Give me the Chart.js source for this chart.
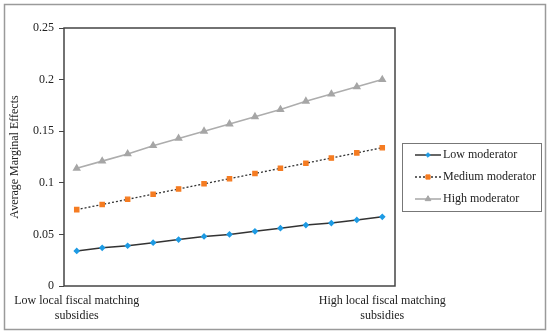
<!DOCTYPE html>
<html>
<head>
<meta charset="utf-8">
<script src="https://cdn.jsdelivr.net/npm/chart.js@4"></script>
<style>
  html, body { margin: 0; padding: 0; background: #fff; }
  #wrap { width: 550px; height: 336px; position: relative; }
</style>
</head>
<body>
<div id="wrap"><canvas id="c" width="550" height="336"></canvas></div>
<script>
// Values
var categories = [
  ["Low local fiscal matching", "subsidies"], "", "", "", "", "", "", "", "", "", "", "",
  ["High local fiscal matching", "subsidies"]
];
var lowModerator = [0.034, 0.037, 0.039, 0.042, 0.045, 0.048, 0.050, 0.053, 0.056, 0.059, 0.061, 0.064, 0.067];
var mediumModerator = [0.074, 0.079, 0.084, 0.089, 0.094, 0.099, 0.104, 0.109, 0.114, 0.119, 0.124, 0.129, 0.134];
var highModerator = [0.114, 0.121, 0.128, 0.136, 0.143, 0.150, 0.157, 0.164, 0.171, 0.179, 0.186, 0.193, 0.200];
var seriesNames = ["Low moderator", "Medium moderator", "High moderator"];

var serif = "'Liberation Serif', 'Times New Roman', serif";
var axisColor = "#444";

// Outer frame, box round the plot, and the boxed legend on the right
var framePlugin = {
  id: "frame",
  beforeDraw: function (chart) {
    var ctx = chart.ctx;
    ctx.save();
    ctx.fillStyle = "#fff";
    ctx.fillRect(0, 0, chart.width, chart.height);
    ctx.strokeStyle = "#9a9a9a";
    ctx.lineWidth = 1.5;
    ctx.strokeRect(4.5, 4.5, 541, 325);
    ctx.restore();
  },
  afterDraw: function (chart) {
    var ctx = chart.ctx;
    var a = chart.chartArea;
    ctx.save();
    ctx.strokeStyle = axisColor;
    ctx.lineWidth = 1.5;
    ctx.strokeRect(a.left, a.top, a.right - a.left, a.bottom - a.top);

    // legend
    ctx.strokeStyle = "#777";
    ctx.lineWidth = 1;
    ctx.strokeRect(402.5, 143.5, 139, 68);
    ctx.font = "12px " + serif;
    ctx.textBaseline = "middle";
    chart.data.datasets.forEach(function (ds, i) {
      var y = 155 + i * 22;
      ctx.save();
      ctx.strokeStyle = ds.borderColor;
      ctx.lineWidth = ds.borderWidth;
      ctx.setLineDash(ds.borderDash || []);
      ctx.beginPath();
      ctx.moveTo(415, y);
      ctx.lineTo(441, y);
      ctx.stroke();
      ctx.restore();
      ctx.save();
      ctx.fillStyle = ds.pointBackgroundColor;
      ctx.strokeStyle = ds.pointBorderColor;
      Chart.helpers.drawPoint(ctx, { pointStyle: ds.pointStyle, radius: ds.pointRadius, borderWidth: 1 }, 428, y);
      ctx.restore();
      ctx.fillStyle = "#222";
      ctx.fillText(ds.label, 443, y);
    });
    ctx.restore();
  }
};

new Chart(document.getElementById("c"), {
  type: "line",
  data: {
    labels: categories,
    datasets: [
      {
        label: seriesNames[0],
        data: lowModerator,
        borderColor: "#333",
        borderWidth: 1.5,
        pointStyle: "rectRot",
        pointRadius: 2.3,
        pointBackgroundColor: "#1e9be4",
        pointBorderColor: "#1e9be4"
      },
      {
        label: seriesNames[1],
        data: mediumModerator,
        borderColor: "#333",
        borderWidth: 1.3,
        borderDash: [2, 2],
        pointStyle: "rect",
        pointRadius: 3,
        pointBackgroundColor: "#f57c22",
        pointBorderColor: "#f57c22"
      },
      {
        label: seriesNames[2],
        data: highModerator,
        borderColor: "#adadad",
        borderWidth: 1.6,
        pointStyle: "triangle",
        pointRadius: 3.3,
        pointBackgroundColor: "#a6a6a6",
        pointBorderColor: "#a6a6a6"
      }
    ]
  },
  options: {
    responsive: false,
    animation: false,
    events: [],
    layout: { padding: { left: 4, right: 155, top: 28, bottom: 6 } },
    plugins: {
      legend: { display: false },
      tooltip: { enabled: false }
    },
    elements: { line: { tension: 0 } },
    scales: {
      x: {
        offset: true,
        border: { display: false },
        grid: { display: false, drawTicks: false },
        ticks: {
          autoSkip: false,
          maxRotation: 0,
          color: "#222",
          padding: 8,
          font: { family: serif, size: 12 }
        },
        afterFit: function (scale) { scale.height = 44; }
      },
      y: {
        min: 0,
        max: 0.25,
        border: { display: false },
        grid: { drawOnChartArea: false, tickLength: 5, color: axisColor },
        ticks: {
          stepSize: 0.05,
          color: "#222",
          padding: 5,
          font: { family: serif, size: 12 },
          callback: function (v) { return String(Number(v.toFixed(2))); }
        },
        title: {
          display: true,
          text: "Average Marginal Effects",
          color: "#222",
          font: { family: serif, size: 12 },
          padding: { top: 4, bottom: 0 }
        },
        afterFit: function (scale) { scale.width = 60; }
      }
    }
  },
  plugins: [framePlugin]
});
</script>
</body>
</html>
